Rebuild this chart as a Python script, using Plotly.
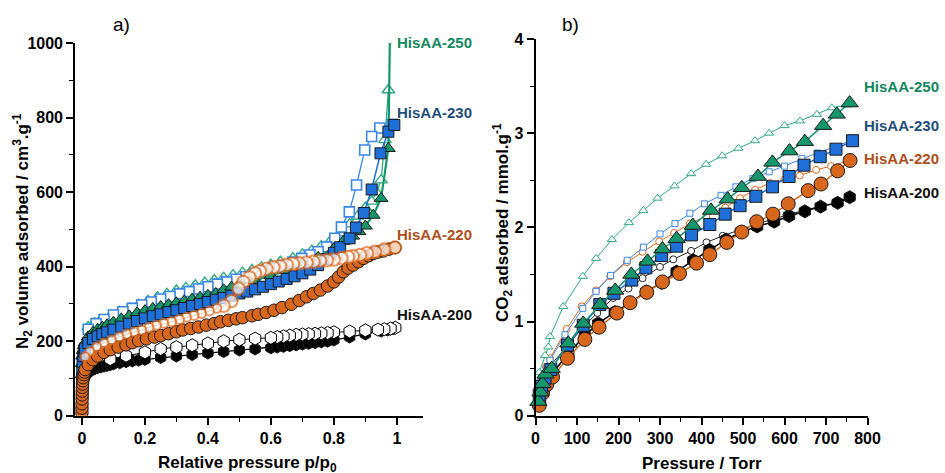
import plotly.graph_objects as go

# ---------------- Panel a) N2 isotherms ----------------
a250_ads_x = [0.0005, 0.001, 0.002, 0.004, 0.007, 0.01, 0.02, 0.035, 0.05, 0.065, 0.08, 0.10, 0.125, 0.15, 0.175, 0.20, 0.225, 0.25, 0.275, 0.30, 0.325, 0.35, 0.375, 0.40, 0.425, 0.45, 0.475, 0.50, 0.55, 0.60, 0.65, 0.70, 0.75, 0.80, 0.83, 0.86, 0.88, 0.90, 0.925, 0.95, 0.973, 0.979]
a250_ads_y = [110, 140, 160, 175, 188, 196, 212, 224, 232, 238, 244, 251, 260, 268, 276, 282, 288, 293, 298, 303, 308, 313, 318, 323, 328, 338, 345, 351, 363, 376, 390, 406, 425, 448, 468, 482, 494, 509, 538, 583, 717, 1080]
a250_des_x = [0.973, 0.962, 0.95, 0.935, 0.92, 0.90, 0.875, 0.85, 0.82, 0.79, 0.76, 0.73, 0.70, 0.67, 0.63, 0.60, 0.57, 0.54, 0.51, 0.48, 0.45, 0.42, 0.39, 0.36, 0.33, 0.30, 0.27, 0.24, 0.21, 0.18, 0.15, 0.12, 0.09, 0.06, 0.04, 0.02]
a250_des_y = [874, 740, 632, 600, 575, 558, 535, 514, 490, 470, 455, 443, 433, 423, 413, 405, 398, 391, 384, 377, 370, 364, 357, 350, 343, 336, 327, 318, 308, 298, 288, 279, 268, 257, 248, 238]

a230_ads_x = [0.0005, 0.001, 0.002, 0.004, 0.007, 0.01, 0.02, 0.035, 0.05, 0.065, 0.08, 0.10, 0.125, 0.15, 0.175, 0.20, 0.225, 0.25, 0.275, 0.30, 0.325, 0.35, 0.375, 0.40, 0.425, 0.45, 0.475, 0.50, 0.525, 0.55, 0.575, 0.60, 0.625, 0.65, 0.675, 0.70, 0.725, 0.75, 0.775, 0.80, 0.82, 0.85, 0.87, 0.895, 0.92, 0.948, 0.973, 0.992]
a230_ads_y = [100, 125, 145, 160, 172, 180, 195, 206, 213, 219, 224, 231, 239, 247, 254, 261, 267, 272, 278, 283, 289, 294, 300, 305, 311, 316, 322, 328, 333, 339, 346, 353, 360, 367, 374, 382, 392, 404, 420, 437, 452, 476, 505, 544, 607, 704, 762, 780]
a230_des_x = [0.985, 0.946, 0.92, 0.898, 0.872, 0.849, 0.824, 0.803, 0.777, 0.75, 0.724, 0.698, 0.67, 0.64, 0.61, 0.58, 0.55, 0.52, 0.49, 0.46, 0.43, 0.40, 0.37, 0.34, 0.31, 0.28, 0.25, 0.22, 0.19, 0.16, 0.13, 0.10, 0.07, 0.045, 0.02]
a230_des_y = [782, 772, 749, 713, 619, 547, 506, 476, 453, 440, 431, 422, 412, 403, 395, 387, 380, 373, 366, 359, 353, 346, 340, 333, 327, 320, 313, 305, 297, 288, 279, 270, 258, 247, 232]

a220_ads_x = [0.0001, 0.0002, 0.0004, 0.0006, 0.0008, 0.001, 0.0015, 0.002, 0.003, 0.004, 0.006, 0.008, 0.01, 0.02, 0.035, 0.05, 0.07, 0.09, 0.115, 0.14, 0.16, 0.18, 0.205, 0.23, 0.25, 0.275, 0.30, 0.32, 0.345, 0.37, 0.395, 0.42, 0.44, 0.465, 0.49, 0.51, 0.54, 0.56, 0.585, 0.61, 0.635, 0.665, 0.69, 0.713, 0.735, 0.757, 0.78, 0.80, 0.815, 0.83, 0.845, 0.861, 0.878, 0.894, 0.91, 0.925, 0.94, 0.957, 0.975, 0.994]
a220_ads_y = [8, 20, 32, 45, 56, 66, 76, 85, 94, 102, 110, 117, 124, 137, 150, 160, 170, 177, 184, 190, 196, 201, 206, 211, 215, 220, 225, 230, 234, 238, 243, 247, 252, 256, 260, 263, 268, 272, 277, 283, 290, 299, 309, 319, 328, 337, 348, 359, 372, 386, 396, 404, 413, 422, 429, 435, 439, 442, 447, 451]
a220_des_x = [0.994, 0.96, 0.93, 0.905, 0.883, 0.86, 0.845, 0.824, 0.8, 0.778, 0.756, 0.735, 0.713, 0.69, 0.67, 0.65, 0.629, 0.608, 0.586, 0.565, 0.549, 0.532, 0.512, 0.497, 0.475, 0.45, 0.428, 0.405, 0.38, 0.356, 0.332, 0.31, 0.285, 0.26, 0.237, 0.213, 0.19, 0.166, 0.142, 0.118, 0.094, 0.07, 0.047, 0.025, 0.01]
a220_des_y = [451, 446, 440, 436, 431, 428, 426, 423, 419, 417, 416, 413, 411, 409, 408, 405, 401, 398, 394, 388, 382, 371, 359, 341, 308, 295, 288, 281, 274, 269, 264, 258, 252, 248, 243, 237, 230, 225, 219, 212, 203, 195, 185, 172, 158]

a200_ads_x = [0.0005, 0.001, 0.002, 0.004, 0.007, 0.01, 0.015, 0.02, 0.03, 0.04, 0.05, 0.06, 0.07, 0.08, 0.09, 0.10, 0.12, 0.14, 0.16, 0.18, 0.20, 0.25, 0.30, 0.35, 0.40, 0.45, 0.50, 0.55, 0.60, 0.62, 0.64, 0.66, 0.68, 0.70, 0.72, 0.74, 0.76, 0.78, 0.80, 0.85, 0.90, 0.95, 0.97, 0.98, 0.99, 0.995]
a200_ads_y = [40, 60, 80, 95, 103, 108, 113, 117, 122, 126, 129, 131, 133, 135, 137, 139, 142, 145, 147, 149, 151, 156, 160, 164, 168, 172, 176, 179, 182, 184, 186, 188, 190, 192, 194, 196, 198, 200, 203, 211, 219, 227, 230, 232, 234, 236]
a200_des_x = [0.995, 0.98, 0.96, 0.94, 0.90, 0.85, 0.80, 0.78, 0.76, 0.74, 0.72, 0.70, 0.68, 0.66, 0.64, 0.62, 0.60, 0.55, 0.50, 0.45, 0.40, 0.35, 0.30, 0.25, 0.20, 0.14, 0.09]
a200_des_y = [236, 234, 232, 231, 229, 226, 224, 222, 221, 220, 219, 218, 217, 215, 213, 211, 209, 207, 204, 200, 194, 189, 184, 179, 170, 161, 152]

# ---------------- Panel b) CO2 isotherms ----------------
b250_f_p = [7, 12, 17, 24, 39, 79, 115, 156, 192, 231, 270, 306, 340, 379, 423, 463, 497, 536, 571, 612, 649, 693, 726, 757]
b250_f_q = [0.15, 0.25, 0.34, 0.44, 0.50, 0.77, 0.98, 1.18, 1.33, 1.50, 1.64, 1.77, 1.88, 2.02, 2.18, 2.30, 2.42, 2.54, 2.69, 2.81, 2.91, 3.08, 3.20, 3.32]
b250_o_p = [9, 23, 31, 35, 67, 114, 146, 184, 225, 260, 294, 335, 375, 411, 450, 489, 529, 563, 600, 637, 678, 714, 752]
b250_o_q = [0.46, 0.64, 0.73, 0.84, 1.16, 1.48, 1.67, 1.87, 2.05, 2.18, 2.31, 2.44, 2.57, 2.67, 2.76, 2.84, 2.92, 3.00, 3.08, 3.13, 3.20, 3.27, 3.30]

b230_f_p = [9, 15, 23, 37, 77, 115, 155, 189, 232, 266, 304, 340, 376, 420, 457, 493, 531, 571, 611, 647, 686, 724, 764]
b230_f_q = [0.22, 0.31, 0.40, 0.49, 0.75, 0.96, 1.18, 1.30, 1.44, 1.57, 1.70, 1.80, 1.92, 2.03, 2.14, 2.23, 2.33, 2.43, 2.54, 2.66, 2.75, 2.83, 2.92]
b230_o_p = [11, 19, 27, 35, 71, 114, 146, 181, 221, 260, 300, 336, 372, 407, 447, 483, 524, 563, 600, 642, 679, 718, 760]
b230_o_q = [0.36, 0.45, 0.50, 0.59, 0.86, 1.14, 1.32, 1.49, 1.65, 1.79, 1.93, 2.04, 2.15, 2.25, 2.34, 2.43, 2.52, 2.59, 2.65, 2.73, 2.79, 2.85, 2.92]

b220_f_p = [9, 17, 27, 41, 77, 119, 153, 196, 228, 268, 306, 347, 388, 420, 461, 497, 533, 572, 609, 657, 688, 728, 758]
b220_f_q = [0.11, 0.24, 0.33, 0.41, 0.61, 0.81, 0.94, 1.09, 1.20, 1.31, 1.42, 1.51, 1.62, 1.71, 1.84, 1.95, 2.06, 2.14, 2.25, 2.39, 2.46, 2.60, 2.71]
b220_o_p = [15, 25, 35, 75, 111, 146, 180, 220, 258, 298, 334, 372, 412, 457, 493, 529, 565, 600, 637, 676, 712, 757]
b220_o_q = [0.41, 0.52, 0.61, 0.92, 1.16, 1.33, 1.48, 1.63, 1.74, 1.85, 1.94, 2.04, 2.12, 2.21, 2.31, 2.40, 2.47, 2.51, 2.55, 2.61, 2.65, 2.71]

b200_f_p = [11, 17, 27, 41, 79, 119, 151, 191, 229, 267, 304, 340, 380, 419, 459, 497, 534, 575, 611, 649, 687, 728, 757]
b200_f_q = [0.17, 0.27, 0.36, 0.45, 0.66, 0.85, 0.98, 1.10, 1.20, 1.32, 1.41, 1.53, 1.65, 1.76, 1.87, 1.95, 2.01, 2.06, 2.12, 2.17, 2.22, 2.26, 2.32]
b200_o_p = [9, 17, 25, 35, 75, 114, 149, 187, 224, 258, 300, 332, 375, 412, 451, 489, 529, 567, 605, 645, 684, 722, 757]
b200_o_q = [0.28, 0.38, 0.45, 0.53, 0.73, 0.94, 1.09, 1.25, 1.35, 1.46, 1.58, 1.66, 1.75, 1.84, 1.91, 1.97, 2.03, 2.08, 2.13, 2.18, 2.22, 2.26, 2.32]

sample_names = ["HisAA-250", "HisAA-230", "HisAA-220", "HisAA-200"]

GREEN = "#16976B"
GREEN_L = "#2FAA7F"
BLUE = "#1F6FD8"
BLUE_L = "#3A87E8"
ORANGE = "#D8661C"
ORANGE_L = "#E2691E"
BLACK = "#000000"
LBL = {"HisAA-250": "#13875D", "HisAA-230": "#1F4E7A", "HisAA-220": "#B04E18", "HisAA-200": "#111111"}

W, H = 945, 473
FONT = "Liberation Sans"

fig = go.Figure()


def filled(x, y, sym, color, size, xa, ya, lw=1.3, clip=True):
    fig.add_trace(go.Scatter(
        x=x, y=y, mode="lines+markers", xaxis=xa, yaxis=ya, cliponaxis=clip,
        line=dict(color=color, width=lw),
        marker=dict(symbol=sym, size=size, color=color,
                    line=dict(color="#1a1a1a", width=1)),
        showlegend=False, hoverinfo="skip"))


def opened(x, y, sym, color, size, xa, ya, lw=1.0, mlw=1.5, clip=True):
    fig.add_trace(go.Scatter(
        x=x, y=y, mode="lines+markers", xaxis=xa, yaxis=ya, cliponaxis=clip,
        line=dict(color=color, width=lw),
        marker=dict(symbol=sym, size=size, color="white",
                    line=dict(color=color, width=mlw)),
        showlegend=False, hoverinfo="skip"))


# panel a
filled(a200_ads_x, a200_ads_y, "hexagon", BLACK, 12, "x", "y")
opened(a200_des_x, a200_des_y, "hexagon", BLACK, 13, "x", "y", lw=1.0, mlw=1.0)
opened(a250_des_x, a250_des_y, "triangle-up", GREEN_L, 11, "x", "y", lw=1.3, mlw=1.4)
opened(a230_des_x, a230_des_y, "square", BLUE_L, 10, "x", "y", lw=1.3, mlw=1.6)
filled(a250_ads_x, a250_ads_y, "triangle-up", GREEN, 12, "x", "y", lw=2.2)
filled(a230_ads_x, a230_ads_y, "square", BLUE, 11, "x", "y", lw=1.5)
filled(a220_ads_x, a220_ads_y, "circle", ORANGE, 12.5, "x", "y", lw=1.3)
a220_sizes = [12.5 if xv >= 0.45 else 9 for xv in a220_des_x]
fig.add_trace(go.Scatter(
    x=a220_des_x, y=a220_des_y, mode="lines+markers", xaxis="x", yaxis="y",
    line=dict(color=ORANGE_L, width=1.2),
    marker=dict(symbol="circle", size=a220_sizes, color="white",
                line=dict(color=ORANGE_L, width=2)),
    showlegend=False, hoverinfo="skip"))

# panel b
opened(b200_o_p, b200_o_q, "circle", "#222222", 7, "x2", "y2", lw=1.0, mlw=1.0, clip=False)
filled(b200_f_p, b200_f_q, "hexagon", BLACK, 13, "x2", "y2", lw=1.5, clip=False)
opened(b220_o_p, b220_o_q, "circle", ORANGE_L, 7, "x2", "y2", lw=1.0, mlw=1.0, clip=False)
filled(b220_f_p, b220_f_q, "circle", ORANGE, 14, "x2", "y2", lw=1.5, clip=False)
opened(b230_o_p, b230_o_q, "square", BLUE_L, 6, "x2", "y2", lw=1.0, mlw=1.0, clip=False)
filled(b230_f_p, b230_f_q, "square", BLUE, 12, "x2", "y2", lw=1.5, clip=False)
opened(b250_o_p, b250_o_q, "triangle-up", GREEN_L, 8, "x2", "y2", lw=1.0, mlw=1.0, clip=False)
filled(b250_f_p, b250_f_q, "triangle-up", GREEN, 15, "x2", "y2", lw=1.5, clip=False)

tickfont = dict(family=FONT, size=16, color="black", weight="bold")
axis_common = dict(showline=True, linecolor="black", linewidth=1.6, ticks="outside",
                   ticklen=7, tickwidth=1.5, tickcolor="black", showgrid=False,
                   zeroline=False, tickfont=tickfont, mirror=False, automargin=False)


def px2x(px):
    return px / W


def px2y(py):
    return 1 - py / H


fig.update_layout(
    width=W, height=H, margin=dict(l=0, r=0, t=0, b=0, pad=0), autosize=False,
    paper_bgcolor="white", plot_bgcolor="white",
    xaxis=dict(domain=[px2x(75), px2x(423)], range=[-0.022, 1.083], anchor="y",
               tickvals=[0, 0.2, 0.4, 0.6, 0.8, 1], ticktext=["0", "0.2", "0.4", "0.6", "0.8", "1"],
               minor=dict(dtick=0.1, ticks="outside", ticklen=4, tickcolor="black", tickwidth=1.2),
               **axis_common),
    yaxis=dict(domain=[px2y(415.7), px2y(43)], range=[0, 1000], anchor="x",
               tickvals=[0, 200, 400, 600, 800, 1000],
               minor=dict(dtick=100, ticks="outside", ticklen=4, tickcolor="black", tickwidth=1.2),
               **axis_common),
    xaxis2=dict(domain=[px2x(535.5), px2x(867.5)], range=[0, 800], anchor="y2",
                tickvals=[0, 100, 200, 300, 400, 500, 600, 700, 800],
                minor=dict(dtick=50, ticks="outside", ticklen=4, tickcolor="black", tickwidth=1.2),
                **axis_common),
    yaxis2=dict(domain=[px2y(415.7), px2y(39)], range=[0, 4], anchor="x2",
                tickvals=[0, 1, 2, 3, 4],
                minor=dict(dtick=0.5, ticks="outside", ticklen=4, tickcolor="black", tickwidth=1.2),
                **axis_common),
)

ann = []


def text(px, py, s, size=15, color="black", bold=True, angle=0, xanchor="center"):
    ann.append(dict(x=px2x(px), y=px2y(py), xref="paper", yref="paper", text=s,
                    showarrow=False, textangle=angle, xanchor=xanchor, yanchor="middle",
                    font=dict(family=FONT, size=size, color=color,
                              weight="bold" if bold else "normal")))


text(121, 24, "a)", size=19, bold=False)
text(570, 24, "b)", size=19, bold=False)
text(22, 231, "N<sub>2</sub> volume adsorbed / cm<sup>3</sup>.g<sup>-1</sup>", size=17, angle=-90)
text(502, 223, "CO<sub>2</sub> adsorbed / mmol.g<sup>-1</sup>", size=17, angle=-90)
text(248, 464, "Relative pressure p/p<sub>0</sub>", size=17)
text(702, 463, "Pressure / Torr", size=17)

left_label_y = [42, 112, 234, 314]
right_label_y = [87, 125, 158, 193]
for name, ly in zip(sample_names, left_label_y):
    text(395, ly, name, size=15, color=LBL[name], xanchor="left")
for name, ry in zip(sample_names, right_label_y):
    text(862, ry, name, size=15, color=LBL[name], xanchor="left")

fig.update_layout(annotations=ann)
fig.write_html(
    "out.html",
    config={"displayModeBar": False},
    post_script="document.body.style.margin='0';document.body.style.padding='0';document.body.style.overflow='hidden';",
)
